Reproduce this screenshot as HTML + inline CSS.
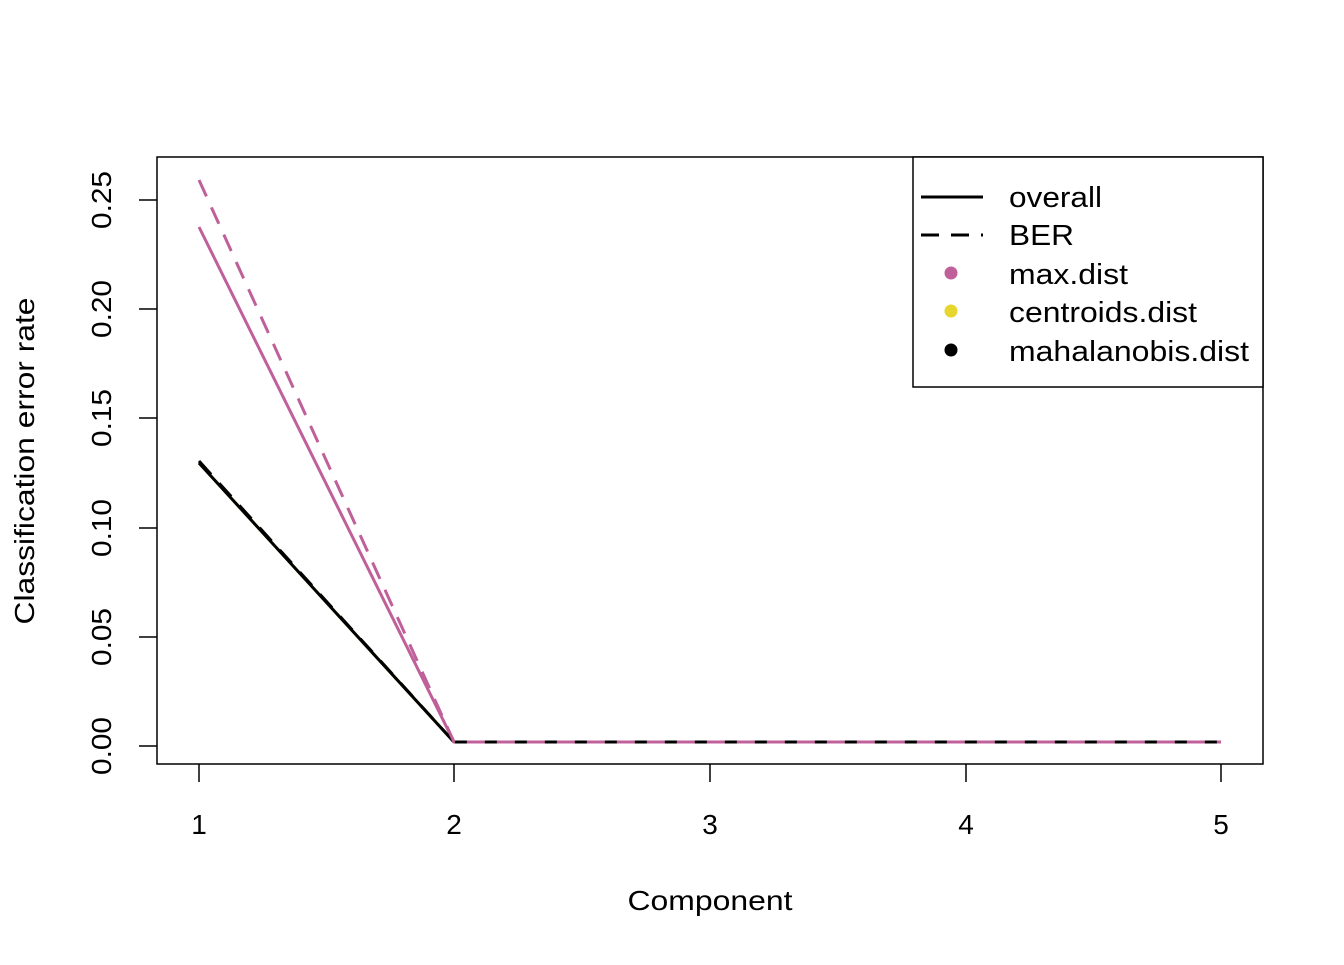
<!DOCTYPE html>
<html><head><style>body{margin:0;background:#fff}</style></head><body>
<svg width="1344" height="960" xmlns="http://www.w3.org/2000/svg" font-family="Liberation Sans, Arial, sans-serif">
<rect width="1344" height="960" fill="#fff"/>
<rect x="157" y="157" width="1106" height="607" fill="none" stroke="#000" stroke-width="1.5"/>
<g stroke="#000" stroke-width="1.5">
<line x1="199" y1="764" x2="199" y2="782"/><line x1="454" y1="764" x2="454" y2="782"/><line x1="710" y1="764" x2="710" y2="782"/><line x1="966" y1="764" x2="966" y2="782"/><line x1="1221" y1="764" x2="1221" y2="782"/>
<line x1="157" y1="746" x2="139" y2="746"/><line x1="157" y1="637" x2="139" y2="637"/><line x1="157" y1="528" x2="139" y2="528"/><line x1="157" y1="418" x2="139" y2="418"/><line x1="157" y1="309" x2="139" y2="309"/><line x1="157" y1="200" x2="139" y2="200"/>
</g>
<g font-size="28" text-anchor="middle" fill="#000">
<text x="199" y="834">1</text><text x="454" y="834">2</text><text x="710" y="834">3</text><text x="966" y="834">4</text><text x="1221" y="834">5</text>
<text transform="translate(111,746) rotate(-90)" textLength="58" lengthAdjust="spacingAndGlyphs">0.00</text>
<text transform="translate(111,637) rotate(-90)" textLength="58" lengthAdjust="spacingAndGlyphs">0.05</text>
<text transform="translate(111,528) rotate(-90)" textLength="58" lengthAdjust="spacingAndGlyphs">0.10</text>
<text transform="translate(111,418) rotate(-90)" textLength="58" lengthAdjust="spacingAndGlyphs">0.15</text>
<text transform="translate(111,309) rotate(-90)" textLength="58" lengthAdjust="spacingAndGlyphs">0.20</text>
<text transform="translate(111,200) rotate(-90)" textLength="58" lengthAdjust="spacingAndGlyphs">0.25</text>
<text x="710" y="910" textLength="165" lengthAdjust="spacingAndGlyphs">Component</text>
<text transform="translate(34,461) rotate(-90)" textLength="327" lengthAdjust="spacingAndGlyphs">Classification error rate</text>
</g>
<g fill="none" stroke-width="3">
<polyline points="199,463 454,742 1221,742" stroke="#e6d62e"/>
<polyline points="199,227 454,742 1221,742" stroke="#c0609a"/>
<polyline points="199,463 454,742 1221,742" stroke="#000"/>
<polyline points="199,461 454,742 1221,742" stroke="#000" stroke-dasharray="18,12"/>
<polyline points="199,180 454,742 1221,742" stroke="#c0609a" stroke-dasharray="18,12"/>
</g>
<rect x="913" y="157" width="350" height="230" fill="#fff" stroke="#000" stroke-width="1.5"/>
<line x1="921" y1="197" x2="983" y2="197" stroke="#000" stroke-width="3"/>
<line x1="921" y1="235" x2="983" y2="235" stroke="#000" stroke-width="3" stroke-dasharray="18,12"/>
<circle cx="951" cy="273" r="6.5" fill="#c0609a"/>
<circle cx="951" cy="311" r="6.5" fill="#e6d62e"/>
<circle cx="951" cy="350" r="6.5" fill="#000"/>
<g font-size="29" fill="#000" lengthAdjust="spacingAndGlyphs">
<text x="1009" y="207" textLength="93" lengthAdjust="spacingAndGlyphs">overall</text>
<text x="1009" y="245" textLength="65" lengthAdjust="spacingAndGlyphs">BER</text>
<text x="1009" y="284" textLength="119" lengthAdjust="spacingAndGlyphs">max.dist</text>
<text x="1009" y="322" textLength="188" lengthAdjust="spacingAndGlyphs">centroids.dist</text>
<text x="1009" y="361" textLength="240" lengthAdjust="spacingAndGlyphs">mahalanobis.dist</text>
</g>
</svg>
</body></html>
